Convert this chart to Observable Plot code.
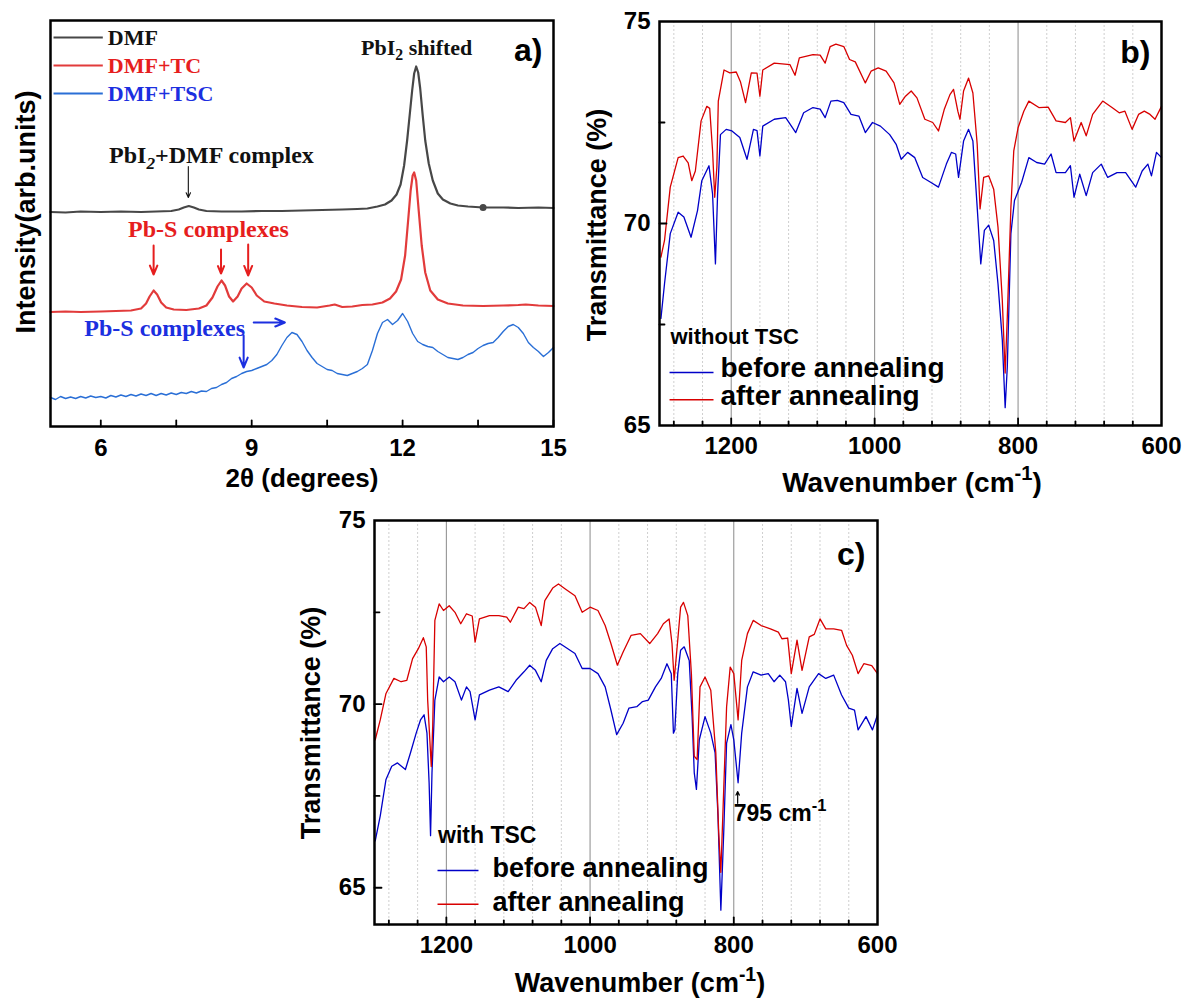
<!DOCTYPE html>
<html><head><meta charset="utf-8">
<script src="https://cdn.jsdelivr.net/npm/d3@7"></script>
<script src="https://cdn.jsdelivr.net/npm/@observablehq/plot@0.6"></script>
<style>
body{margin:0;background:#fff;}
#fig{position:relative;width:1186px;height:999px;overflow:hidden;background:#fff;}
.panel{position:absolute;}
.panel svg{overflow:visible;}
.panel svg text{font-weight:700 !important;}
</style></head><body><div id="fig"></div>
<script>
// ---------- Panel a: XRD (2θ, arb. intensity) ----------
const aTicks = [6, 9, 12, 15];
const aMinor = [7.5, 10.5, 13.5];
const aDMF = [[5.0,214.5],[5.3,214],[5.6,215],[6.0,214.5],[6.4,215],[6.8,214.5],[7.1,215],[7.4,215.5],[7.55,217],[7.65,219],[7.75,220.5],[7.85,219],[7.95,217],[8.1,215.5],[8.4,215],[8.8,215],[9.2,215.5],[9.6,215.5],[10.0,216],[10.4,216.5],[10.8,217],[11.1,217.5],[11.3,218],[11.5,220],[11.65,222],[11.78,226],[11.88,232],[11.96,242],[12.03,261],[12.09,286],[12.14,311],[12.19,336],[12.23,353],[12.27,360],[12.31,354],[12.35,338],[12.40,311],[12.45,286],[12.52,263],[12.6,246],[12.7,233],[12.8,227],[12.95,223],[13.1,221],[13.3,220],[13.6,219],[14.0,219],[14.3,218.5],[14.7,219],[15.0,218.5]];
const aDMFdot = [[13.6,219]];
const aTC = [[5.0,114.5],[5.3,115],[5.6,114.5],[6.0,115],[6.3,115.5],[6.6,116],[6.8,118],[6.9,123],[6.97,130],[7.05,136],[7.12,132],[7.2,124],[7.3,119],[7.45,117],[7.7,116.5],[7.95,118],[8.1,121],[8.22,129],[8.32,140],[8.4,146],[8.47,141],[8.55,130],[8.63,125],[8.72,130],[8.8,138],[8.9,143],[9.0,139],[9.1,131],[9.25,125],[9.45,123],[9.7,121],[10.0,119.5],[10.3,119],[10.55,121],[10.65,122],[10.8,119.5],[11.0,120],[11.2,121.5],[11.4,122],[11.6,124],[11.75,128],[11.87,135],[11.97,147],[12.05,171],[12.11,206],[12.16,236],[12.2,251],[12.23,254],[12.27,246],[12.32,216],[12.38,181],[12.45,154],[12.55,136],[12.7,127],[12.9,123],[13.2,121],[13.6,120.5],[14.0,121],[14.3,121.5],[14.45,122],[14.7,121],[15.0,120.5]];
const aTSC = [[5.0,29],[5.1,27],[5.2,30],[5.3,28],[5.4,29.5],[5.5,28],[5.6,30],[5.7,28.5],[5.8,30.5],[5.9,29],[6.0,30],[6.1,28.5],[6.2,31],[6.3,29.5],[6.4,31.5],[6.5,30],[6.6,32],[6.7,30.5],[6.8,32.5],[6.9,31],[7.0,33],[7.1,31],[7.2,33],[7.3,31.5],[7.4,33.5],[7.5,32],[7.6,34],[7.7,33],[7.8,35],[7.9,33.5],[8.0,35.5],[8.1,35],[8.2,38],[8.3,39],[8.4,42],[8.5,44],[8.6,48],[8.7,50],[8.8,53],[8.9,55],[9.0,56],[9.1,58],[9.2,60],[9.3,62],[9.4,66],[9.5,72],[9.6,81],[9.7,89],[9.8,94],[9.9,92],[10.0,85],[10.1,76],[10.2,69],[10.3,63],[10.4,60],[10.5,57],[10.6,56],[10.7,53],[10.8,52],[10.9,51],[11.0,53],[11.1,55],[11.2,58],[11.3,62],[11.4,76],[11.5,93],[11.6,104],[11.7,107],[11.8,102],[11.9,106],[12.0,113],[12.1,105],[12.2,93],[12.3,85],[12.4,82],[12.5,80],[12.6,79],[12.7,75],[12.8,72],[12.9,69],[13.0,68],[13.1,67],[13.2,69],[13.3,72],[13.4,74],[13.5,78],[13.6,81],[13.7,83],[13.8,84],[13.9,89],[14.0,95],[14.1,100],[14.2,102],[14.3,99],[14.4,93],[14.5,84],[14.6,79],[14.7,75],[14.8,70],[14.9,74],[15.0,79]];
const aLegendLabels = ["DMF", "DMF+TC", "DMF+TSC"];

// ---------- Panels b, c: FTIR (wavenumber, transmittance %) ----------
const irTicks = [1200, 1000, 800, 600];
const irMajorGrid = [1200, 1000, 800];
const irMinorGrid = [1280,1240,1160,1120,1080,1040,960,920,880,840,760,720,680,640];
const bYTicks = [65, 70, 75];
const cYTicks = [65, 70, 75];
const irYMinor = [72.5, 67.5];

const bAfter = [[1298,69.17],[1293,69.58],[1285,70.9],[1274,71.63],[1267,71.67],[1260,71.5],[1255,71.06],[1250,71.3],[1242,72.54],[1234,72.9],[1230,72.85],[1226,71.8],[1223,70.65],[1220,71.4],[1218,73.03],[1210,73.8],[1202,73.73],[1193,73.75],[1187,73.5],[1180,72.99],[1172,73.73],[1164,73.72],[1160,73.15],[1156,73.8],[1140,73.97],[1118,73.93],[1111,73.67],[1105,74.1],[1086,74.18],[1076,74.17],[1069,73.97],[1062,74.38],[1054,74.44],[1043,74.38],[1035,74.06],[1027,74.0],[1013,73.48],[1005,73.77],[995,73.85],[984,73.77],[973,73.48],[965,72.95],[957,73.15],[949,73.28],[941,73.11],[930,72.58],[919,72.5],[911,72.29],[903,72.82],[895,73.19],[890,73.32],[884,72.78],[881,72.58],[876,73.28],[869,73.6],[863,73.23],[857,71.96],[853,70.36],[848,71.14],[841,71.18],[834,70.85],[828,69.91],[822,68.1],[818,66.3],[815,67.7],[810,70.4],[806,71.8],[800,72.37],[792,72.78],[785,73.03],[771,72.87],[758,72.88],[747,72.54],[734,72.5],[727,72.62],[722,72.04],[712,72.5],[705,72.17],[696,72.7],[682,73.03],[669,72.87],[659,72.74],[651,72.78],[641,72.33],[632,72.7],[624,72.78],[616,72.7],[609,72.58],[600,72.9]];
const bBefore = [[1298,67.65],[1293,68.51],[1285,69.75],[1274,70.28],[1266,70.16],[1256,69.66],[1247,70.32],[1241,71.06],[1231,71.43],[1226,70.73],[1222,69.0],[1219,70.73],[1215,72.2],[1207,72.33],[1199,72.29],[1188,72.13],[1178,71.59],[1169,72.33],[1164,72.3],[1160,71.67],[1156,72.41],[1140,72.58],[1124,72.62],[1110,72.25],[1099,72.74],[1086,72.87],[1076,72.83],[1069,72.62],[1061,73.03],[1052,73.05],[1043,72.99],[1033,72.7],[1022,72.66],[1013,72.25],[1003,72.5],[992,72.41],[979,72.2],[970,71.96],[963,71.59],[954,71.76],[944,71.63],[933,71.14],[922,71.02],[911,70.9],[900,71.47],[893,71.76],[887,71.72],[883,71.14],[876,72.04],[869,72.33],[863,72.04],[857,70.4],[852,69.0],[847,69.83],[841,69.96],[834,69.58],[828,68.51],[822,67.12],[818,65.44],[815,66.46],[810,69.75],[805,70.57],[795,71.02],[785,71.63],[774,71.51],[763,71.47],[754,71.72],[747,71.26],[734,71.26],[727,71.43],[722,70.65],[714,71.22],[705,70.69],[696,71.26],[684,71.47],[675,71.14],[662,71.26],[650,71.26],[636,70.9],[627,71.3],[619,71.47],[614,71.18],[607,71.76],[600,71.63]];
const cAfter = [[1299,69.03],[1292,69.57],[1284,70.29],[1273,70.7],[1263,70.61],[1255,70.65],[1247,71.24],[1239,71.51],[1232,71.81],[1228,71.56],[1226,70.11],[1221,68.3],[1219,69.39],[1216,72.28],[1210,72.73],[1204,72.55],[1196,72.68],[1188,72.5],[1180,72.19],[1172,72.46],[1164,72.4],[1160,71.69],[1154,72.32],[1140,72.41],[1127,72.41],[1116,72.37],[1111,72.23],[1100,72.64],[1092,72.6],[1084,72.77],[1076,72.64],[1068,72.14],[1063,72.82],[1052,73.16],[1044,73.27],[1034,73.13],[1021,72.95],[1011,72.5],[1000,72.64],[989,72.55],[979,72.14],[971,71.65],[962,71.06],[954,71.42],[943,71.87],[930,71.92],[917,71.65],[906,71.92],[898,72.19],[890,72.32],[886,71.65],[883,70.65],[878,71.74],[874,72.64],[870,72.77],[864,72.41],[859,70.83],[855,68.58],[851,68.49],[847,70.47],[840,70.74],[832,70.38],[825,68.67],[821,66.51],[818,65.42],[814,67.68],[810,69.93],[805,71.01],[800,70.83],[794,69.57],[789,71.19],[781,71.92],[773,72.28],[762,72.14],[749,72.05],[738,71.96],[733,71.78],[725,71.8],[720,70.83],[712,71.74],[705,70.92],[695,71.83],[688,71.9],[680,72.32],[672,72.05],[661,72.05],[650,72.01],[643,71.6],[635,71.33],[627,70.83],[619,71.1],[608,71.05],[600,70.83]];
const cBefore = [[1299,66.28],[1292,66.96],[1284,67.95],[1276,68.31],[1268,68.4],[1257,68.22],[1250,68.67],[1242,69.21],[1236,69.57],[1231,69.71],[1227,69.21],[1224,67.86],[1222,66.42],[1220,68.13],[1216,70.11],[1210,70.74],[1204,70.61],[1196,70.74],[1188,70.61],[1179,70.11],[1172,70.47],[1167,70.34],[1160,69.57],[1154,70.25],[1140,70.38],[1127,70.47],[1114,70.34],[1103,70.65],[1092,70.88],[1084,71.06],[1076,70.92],[1068,70.61],[1061,71.19],[1052,71.51],[1042,71.65],[1031,71.51],[1021,71.38],[1011,70.97],[1000,70.97],[989,70.83],[979,70.47],[971,69.84],[963,69.17],[954,69.48],[946,69.89],[935,69.93],[927,70.07],[919,70.11],[909,70.47],[901,70.7],[893,71.1],[887,70.83],[884,69.21],[882,69.3],[878,70.83],[874,71.47],[869,71.56],[862,71.19],[858,69.66],[855,68.13],[852,67.68],[848,69.03],[840,69.66],[832,69.21],[826,68.67],[822,66.96],[818,64.39],[814,66.51],[810,68.94],[804,69.44],[800,69.03],[794,67.86],[789,69.21],[781,70.47],[773,70.88],[762,70.79],[752,70.83],[744,70.61],[736,70.79],[728,70.61],[724,70.11],[720,69.39],[712,70.43],[705,69.75],[695,70.47],[682,70.83],[672,70.7],[661,70.79],[650,70.25],[640,69.89],[632,69.84],[627,69.3],[616,69.66],[607,69.3],[600,69.71]];
const irLegendLabels = ["before annealing", "after annealing"];

// ---------- helpers ----------
const SANS = "'Liberation Sans', Arial, sans-serif";
const SERIF = "'Liberation Serif', 'Times New Roman', serif";
const C = {dmf:"#474747", tc:"#e23b3b", tsc:"#2a6fd6", tcText:"#e61e1e", tscText:"#1c2fe0",
           blue:"#0000c8", red:"#d80000", major:"#8a8a8a", minor:"#c9c9c9"};
const tickShape = {draw(ctx, l){ ctx.moveTo(0,0); ctx.lineTo(0,-l); }};
const X = d => d[0], Y = d => d[1];
const STYLE = {fontFamily:SANS, fontWeight:"bold", fontSize:"24px", background:"transparent", overflow:"visible"};

function setRich(el, str){
  el.textContent = "";
  const parts = str.split(/(_\{[^}]*\}|\^\{[^}]*\})/g).filter(s => s.length);
  let pending = null;
  for (const p of parts){
    const t = document.createElementNS("http://www.w3.org/2000/svg","tspan");
    if (p.startsWith("_{") || p.startsWith("^{")){
      let inner = p.slice(2,-1);
      const sub = p[0] === "_";
      if (inner.startsWith("*")){ inner = inner.slice(1); t.setAttribute("font-style","italic"); }
      t.setAttribute("style","font-size:0.72em");
      t.setAttribute("dy", sub ? "0.35em" : "-0.6em");
      t.textContent = inner;
      pending = sub ? "-0.252em" : "0.432em";
    } else {
      if (pending) t.setAttribute("dy", pending);
      pending = null;
      t.textContent = p;
    }
    el.appendChild(t);
  }
}
function richify(svg){
  svg.querySelectorAll("text").forEach(el => {
    const s = el.textContent;
    if (/[_^]\{/.test(s)) setRich(el, s);
  });
}
function addTitle(svg, str, x, y, rotate, size){
  const t = d3.select(svg).append("text")
    .attr("transform", `translate(${x},${y})` + (rotate ? " rotate(-90)" : ""))
    .attr("text-anchor","middle").attr("dy","0.35em")
    .attr("font-family", SANS).attr("font-weight","bold")
    .attr("font-size", size).attr("fill","#000");
  setRich(t.node(), str);
}
function place(svg, left, top){
  const d = document.createElement("div");
  d.className = "panel"; d.style.left = left + "px"; d.style.top = top + "px";
  d.appendChild(svg);
  document.getElementById("fig").appendChild(d);
  richify(svg);
  return svg;
}
const frameMark = () => Plot.frame({stroke:"#000", strokeWidth:2.5});
const xTicksIn = (vals, len) => Plot.vector(vals, {x: d => d, frameAnchor:"bottom", anchor:"start", length: len, shape: tickShape, stroke:"#000", strokeWidth:1.8});
const yTicksIn = (vals, len) => Plot.vector(vals, {y: d => d, frameAnchor:"left", anchor:"start", rotate:90, length: len, shape: tickShape, stroke:"#000", strokeWidth:1.8});

// ---------- Panel a ----------
const aColors = [C.dmf, C.tc, C.tsc];
const aTextColors = ["#111", C.tcText, C.tscText];
const aNotes = [
  {t:"PbI_{2} shifted", x:12.28, y:379, c:"#111", fs:22},
  {t:"PbI_{*2}+DMF complex", x:8.2, y:271, c:"#111", fs:24},
  {t:"Pb-S complexes", x:8.14, y:197, c:C.tcText, fs:24},
  {t:"Pb-S complexes", x:7.27, y:98, c:C.tscText, fs:24}
];
const aArrowsThin = [{x1:7.74, y1:260, x2:7.74, y2:229, c:"#111"}];
const aArrows = [
  {x1:7.05, y1:181, x2:7.05, y2:152, c:C.tcText},
  {x1:8.39, y1:177, x2:8.39, y2:153, c:C.tcText},
  {x1:8.93, y1:182, x2:8.93, y2:151, c:C.tcText},
  {x1:9.04, y1:104, x2:9.66, y2:104, c:C.tscText},
  {x1:8.84, y1:91, x2:8.84, y2:59, c:C.tscText}
];
const svgA = Plot.plot({
  width:570, height:500, marginLeft:50, marginRight:17, marginTop:20, marginBottom:74,
  style:STYLE,
  color:{type:"identity"},
  x:{domain:[5,15]}, y:{domain:[0,406], axis:null},
  marks:[
    Plot.line(aTSC, {x:X, y:Y, stroke:C.tsc, strokeWidth:1.4}),
    Plot.line(aTC, {x:X, y:Y, stroke:C.tc, strokeWidth:2.2}),
    Plot.line(aDMF, {x:X, y:Y, stroke:C.dmf, strokeWidth:2.2}),
    Plot.dot(aDMFdot, {x:X, y:Y, r:3.5, fill:C.dmf}),
    Plot.link(aLegendLabels, {x1:()=>5.06, x2:()=>6.04, y1:(d,i)=>389-28*i, y2:(d,i)=>389-28*i, stroke:(d,i)=>aColors[i], strokeWidth:2.2}),
    Plot.text(aLegendLabels, {x:()=>6.14, y:(d,i)=>389-28*i, text:d=>d, fill:(d,i)=>aTextColors[i], textAnchor:"start", fontFamily:SERIF, fontWeight:"bold", fontSize:22}),
    Plot.text(aNotes.filter(d=>d.fs===22), {x:"x", y:"y", text:"t", fill:"c", textAnchor:"middle", fontFamily:SERIF, fontWeight:"bold", fontSize:22}),
    Plot.text(aNotes.filter(d=>d.fs===24), {x:"x", y:"y", text:"t", fill:"c", textAnchor:"middle", fontFamily:SERIF, fontWeight:"bold", fontSize:24}),
    Plot.arrow(aArrowsThin, {x1:"x1", y1:"y1", x2:"x2", y2:"y2", stroke:"c", strokeWidth:1.1, headLength:7, headAngle:50}),
    Plot.arrow(aArrows, {x1:"x1", y1:"y1", x2:"x2", y2:"y2", stroke:"c", strokeWidth:2, headLength:9, headAngle:45}),
    Plot.text(["a)"], {frameAnchor:"top-right", dx:-11, dy:30, text:d=>d, textAnchor:"end", lineAnchor:"middle", fontSize:32, fontWeight:"bold", fontFamily:SANS}),
    xTicksIn(aTicks, 6), xTicksIn(aMinor, 6),
    Plot.axisX({ticks:aTicks, tickSize:0, tickPadding:12, fontSize:24, fontWeight:"bold", tickFormat:d=>String(d), label:null}),
    frameMark()
  ]
});
place(svgA, 0, 0);
addTitle(svgA, "2θ (degrees)", 302, 478, false, 26);
addTitle(svgA, "Intensity(arb.units)", 26, 212, true, 27);

// ---------- IR panel builder ----------
function irPanel(opts){
  const {before, after, yDomain, yTicks, width, height, mL, mR, mT, mB, tag, tagDx, tagDy, header, legend, extras} = opts;
  return Plot.plot({
    width, height, marginLeft:mL, marginRight:mR, marginTop:mT, marginBottom:mB,
    style:STYLE,
    color:{type:"identity"},
    x:{domain:[1300,600]}, y:{domain:yDomain},
    marks:[
      Plot.ruleX(irMinorGrid, {x:d=>d, stroke:C.minor, strokeWidth:0.9, strokeDasharray:"2,2"}),
      Plot.ruleX(irMajorGrid, {x:d=>d, stroke:C.major, strokeWidth:1}),
      Plot.line(before, {x:X, y:Y, stroke:C.blue, strokeWidth:1.3}),
      Plot.line(after, {x:X, y:Y, stroke:C.red, strokeWidth:1.3}),
      Plot.text([header.t], {x:()=>header.x, y:()=>header.y, text:d=>d, textAnchor:"start", fontSize:header.fs, fontWeight:"bold", fontFamily:SANS}),
      Plot.link(irLegendLabels, {x1:()=>legend.x1, x2:()=>legend.x2, y1:(d,i)=>legend.ys[i], y2:(d,i)=>legend.ys[i], stroke:(d,i)=>[C.blue,C.red][i], strokeWidth:1.5}),
      Plot.text(irLegendLabels, {x:()=>legend.tx, y:(d,i)=>legend.tys[i], text:d=>d, textAnchor:"start", fontSize:legend.fs, fontWeight:"bold", fontFamily:SANS}),
      ...(extras || []),
      Plot.text([tag], {frameAnchor:"top-right", dx:tagDx, dy:tagDy, text:d=>d, textAnchor:"end", lineAnchor:"middle", fontSize:32, fontWeight:"bold", fontFamily:SANS}),
      xTicksIn(irMajorGrid, 7), xTicksIn(irMinorGrid, 4),
      yTicksIn(yTicks.slice(1, -1).concat(yTicks[0] > yDomain[0] ? [yTicks[0]] : []), 7), yTicksIn(irYMinor, 5),
      Plot.axisX({ticks:irTicks, tickSize:0, tickPadding:11, fontSize:24, fontWeight:"bold", tickFormat:d=>String(d), label:null}),
      Plot.axisY({ticks:yTicks, tickSize:0, tickPadding:9, fontSize:24, fontWeight:"bold", tickFormat:d=>String(d), label:null}),
      frameMark()
    ]
  });
}

// ---------- Panel b ----------
const svgB = irPanel({
  before:bBefore, after:bAfter, yDomain:[65,75], yTicks:bYTicks,
  width:606, height:500, mL:79, mR:25, mT:21, mB:75,
  tag:"b)", tagDx:-11, tagDy:31,
  header:{t:"without TSC", x:1284.7, y:67.18, fs:22},
  legend:{x1:1286, x2:1224.7, ys:[66.31,65.64], tx:1215, tys:[66.43,65.72], fs:28}
});
place(svgB, 580, 0);
addTitle(svgB, "Wavenumber (cm^{-1})", 332, 482, false, 28);
addTitle(svgB, "Transmittance (%)", 17, 225, true, 27);

// ---------- Panel c ----------
const cNote = [{t:"795 cm^{-1}", x:800, y:67.02}];
const cArrow = [{x1:794.6, y1:67.3, x2:794.6, y2:67.62}];
const svgC = irPanel({
  before:cBefore, after:cAfter, yDomain:[64,75], yTicks:cYTicks,
  width:620, height:499, mL:84, mR:33, mT:20, mB:75,
  tag:"c)", tagDx:-12, tagDy:34,
  header:{t:"with TSC", x:1211.6, y:66.42, fs:23},
  legend:{x1:1212.3, x2:1155.3, ys:[65.47,64.55], tx:1135.8, tys:[65.53,64.6], fs:27},
  extras:[
    Plot.arrow(cArrow, {x1:"x1", y1:"y1", x2:"x2", y2:"y2", stroke:"#000", strokeWidth:1.2, headLength:6, headAngle:50}),
    Plot.text(cNote, {x:"x", y:"y", text:"t", textAnchor:"start", fontSize:23, fontWeight:"bold", fontFamily:SANS})
  ]
});
place(svgC, 290, 500);
addTitle(svgC, "Wavenumber (cm^{-1})", 350, 483, false, 27);
addTitle(svgC, "Transmittance (%)", 21, 223, true, 27);
</script>
</body></html>
